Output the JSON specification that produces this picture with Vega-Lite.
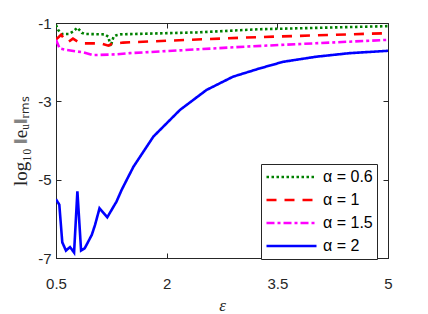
{
  "$schema": "https://vega.github.io/schema/vega-lite/v6.json",
  "width": 332,
  "height": 235,
  "autosize": {"type": "none"},
  "padding": {"left": 56, "top": 23, "right": 40, "bottom": 56},
  "config": {
    "view": {"stroke": "#262626", "strokeWidth": 1},
    "axis": {"grid": false, "domainColor": "#262626", "tickColor": "#262626", "labelColor": "#262626", "titleColor": "#262626", "labelFont": "Liberation Sans", "labelFontSize": 15, "tickSize": -5, "labelPadding": 10, "labelOverlap": false, "labelFlush": false, "labelBound": false}
  },
  "data": {"values": [
    {"eps": 0.5, "val": -1.05, "alpha": "α = 0.6"},
    {"eps": 0.53, "val": -1.18, "alpha": "α = 0.6"},
    {"eps": 0.58, "val": -1.28, "alpha": "α = 0.6"},
    {"eps": 0.67, "val": -1.28, "alpha": "α = 0.6"},
    {"eps": 0.73, "val": -1.22, "alpha": "α = 0.6"},
    {"eps": 0.79, "val": -1.12, "alpha": "α = 0.6"},
    {"eps": 0.85, "val": -1.25, "alpha": "α = 0.6"},
    {"eps": 0.89, "val": -1.28, "alpha": "α = 0.6"},
    {"eps": 1.16, "val": -1.29, "alpha": "α = 0.6"},
    {"eps": 1.21, "val": -1.35, "alpha": "α = 0.6"},
    {"eps": 1.24, "val": -1.6, "alpha": "α = 0.6"},
    {"eps": 1.28, "val": -1.35, "alpha": "α = 0.6"},
    {"eps": 1.32, "val": -1.31, "alpha": "α = 0.6"},
    {"eps": 1.37, "val": -1.29, "alpha": "α = 0.6"},
    {"eps": 2.41, "val": -1.24, "alpha": "α = 0.6"},
    {"eps": 3.24, "val": -1.16, "alpha": "α = 0.6"},
    {"eps": 5.0, "val": -1.08, "alpha": "α = 0.6"},
    {"eps": 0.5, "val": -1.42, "alpha": "α = 1"},
    {"eps": 0.57, "val": -1.3, "alpha": "α = 1"},
    {"eps": 0.63, "val": -1.45, "alpha": "α = 1"},
    {"eps": 0.67, "val": -1.48, "alpha": "α = 1"},
    {"eps": 0.73, "val": -1.4, "alpha": "α = 1"},
    {"eps": 0.8, "val": -1.48, "alpha": "α = 1"},
    {"eps": 0.87, "val": -1.52, "alpha": "α = 1"},
    {"eps": 1.1, "val": -1.52, "alpha": "α = 1"},
    {"eps": 1.21, "val": -1.58, "alpha": "α = 1"},
    {"eps": 1.25, "val": -1.54, "alpha": "α = 1"},
    {"eps": 1.41, "val": -1.5, "alpha": "α = 1"},
    {"eps": 3.08, "val": -1.37, "alpha": "α = 1"},
    {"eps": 5.0, "val": -1.26, "alpha": "α = 1"},
    {"eps": 0.5, "val": -1.43, "alpha": "α = 1.5"},
    {"eps": 0.55, "val": -1.65, "alpha": "α = 1.5"},
    {"eps": 0.645, "val": -1.69, "alpha": "α = 1.5"},
    {"eps": 0.87, "val": -1.75, "alpha": "α = 1.5"},
    {"eps": 1.0, "val": -1.82, "alpha": "α = 1.5"},
    {"eps": 1.32, "val": -1.8, "alpha": "α = 1.5"},
    {"eps": 1.5, "val": -1.77, "alpha": "α = 1.5"},
    {"eps": 3.1, "val": -1.6, "alpha": "α = 1.5"},
    {"eps": 5.0, "val": -1.43, "alpha": "α = 1.5"},
    {"eps": 0.5, "val": -5.5, "alpha": "α = 2"},
    {"eps": 0.545, "val": -5.64, "alpha": "α = 2"},
    {"eps": 0.585, "val": -6.6, "alpha": "α = 2"},
    {"eps": 0.635, "val": -6.81, "alpha": "α = 2"},
    {"eps": 0.69, "val": -6.72, "alpha": "α = 2"},
    {"eps": 0.745, "val": -6.86, "alpha": "α = 2"},
    {"eps": 0.79, "val": -5.3, "alpha": "α = 2"},
    {"eps": 0.84, "val": -6.81, "alpha": "α = 2"},
    {"eps": 0.89, "val": -6.75, "alpha": "α = 2"},
    {"eps": 0.985, "val": -6.41, "alpha": "α = 2"},
    {"eps": 1.03, "val": -6.15, "alpha": "α = 2"},
    {"eps": 1.09, "val": -5.73, "alpha": "α = 2"},
    {"eps": 1.195, "val": -5.96, "alpha": "α = 2"},
    {"eps": 1.32, "val": -5.56, "alpha": "α = 2"},
    {"eps": 1.39, "val": -5.26, "alpha": "α = 2"},
    {"eps": 1.46, "val": -5.0, "alpha": "α = 2"},
    {"eps": 1.55, "val": -4.67, "alpha": "α = 2"},
    {"eps": 1.82, "val": -3.9, "alpha": "α = 2"},
    {"eps": 2.18, "val": -3.22, "alpha": "α = 2"},
    {"eps": 2.54, "val": -2.71, "alpha": "α = 2"},
    {"eps": 2.9, "val": -2.37, "alpha": "α = 2"},
    {"eps": 3.26, "val": -2.16, "alpha": "α = 2"},
    {"eps": 3.58, "val": -1.99, "alpha": "α = 2"},
    {"eps": 4.03, "val": -1.86, "alpha": "α = 2"},
    {"eps": 4.48, "val": -1.77, "alpha": "α = 2"},
    {"eps": 5.0, "val": -1.71, "alpha": "α = 2"}
  ]},
  "layer": [
    {
      "mark": {"type": "line", "strokeWidth": 2.6, "clip": true},
      "encoding": {
        "x": {"field": "eps", "type": "quantitative", "scale": {"domain": [0.5, 5], "nice": false, "zero": false},
              "axis": {"values": [0.5, 2, 3.5, 5], "labelExpr": "'' + datum.value", "labelPadding": 23, "title": "ε", "titleFont": "Liberation Serif", "titleFontStyle": "italic", "titleFontWeight": "normal", "titleFontSize": 17, "titlePadding": 6}},
        "y": {"field": "val", "type": "quantitative", "scale": {"domain": [-7, -1], "nice": false, "zero": false},
              "axis": {"values": [-1, -3, -5, -7], "labelExpr": "'' + datum.value", "title": "log₁₀ ‖eᵤ‖ᵣₘₛ", "titleFont": "Liberation Serif", "titleFontWeight": "normal", "titleFontSize": 19, "titlePadding": 7}},
        "color": {"field": "alpha", "type": "nominal",
                  "scale": {"domain": ["α = 0.6", "α = 1", "α = 1.5", "α = 2"], "range": ["#008000", "#FF0000", "#FF00FF", "#0000FF"]},
                  "legend": {"title": null, "orient": "none", "legendX": 205, "legendY": 141, "symbolType": "stroke", "symbolSize": 2500, "clipHeight": 18, "symbolStrokeWidth": 2.6, "labelFont": "Liberation Sans", "labelFontSize": 16, "labelColor": "#000000", "rowPadding": 5, "padding": 4, "strokeColor": "#262626", "fillColor": "#ffffff", "labelOffset": 5, "labelLimit": 0}},
        "strokeDash": {"field": "alpha", "type": "nominal",
                       "scale": {"domain": ["α = 0.6", "α = 1", "α = 1.5", "α = 2"], "range": [[2.5, 2.5], [10, 8], [8, 3, 3, 3], [1, 0]]},
                       "legend": null}
      }
    },
    {
      "mark": {"type": "point", "opacity": 0},
      "encoding": {
        "x": {"field": "eps", "type": "quantitative", "axis": {"orient": "top", "values": [0.5, 2, 3.5, 5], "labels": false, "title": null, "domain": false}},
        "y": {"field": "val", "type": "quantitative", "axis": {"orient": "right", "values": [-1, -3, -5, -7], "labels": false, "title": null, "domain": false}}
      }
    }
  ],
  "resolve": {"axis": {"x": "independent", "y": "independent"}}
}
